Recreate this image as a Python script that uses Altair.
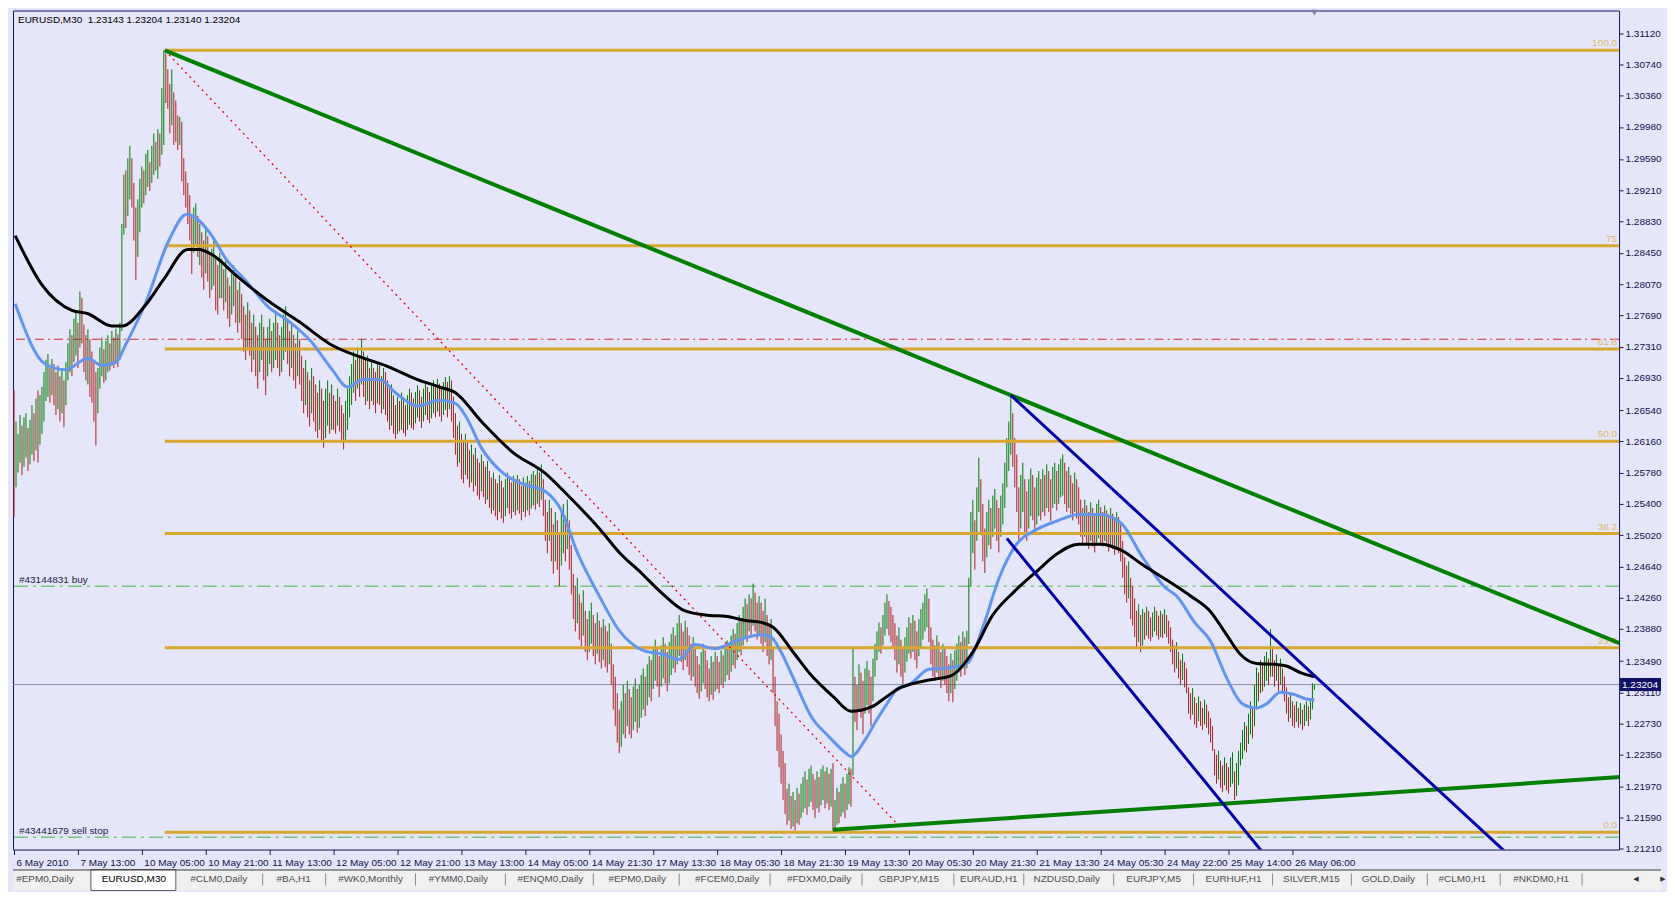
import json
import altair as alt
import pandas as pd

# ---------------------------------------------------------------- data
symbol = "EURUSD,M30"
last_ohlc = ["1.23143", "1.23204", "1.23140", "1.23204"]
bid_price = 1.23204

# M30 bars, high / low in units of 0.0001 above 1.0000 ; U = bull bar, D = bear bar
bar_high_pts = [
    2678, 2640, 2625, 2648, 2635, 2645, 2650, 2632, 2642, 2660,
    2650, 2668, 2678, 2672, 2682, 2700, 2715, 2722, 2705, 2716,
    2710, 2700, 2708, 2695, 2702, 2690, 2712, 2735, 2752, 2745,
    2765, 2774, 2760, 2798, 2790, 2758, 2745, 2752, 2740, 2725,
    2715, 2700, 2705, 2730, 2742, 2728, 2738, 2745, 2735, 2750,
    2742, 2753, 2746, 2760, 2880, 2940, 2945, 2960, 2975, 2960,
    2930, 2900, 2910, 2935, 2950, 2945, 2965, 2970, 2955, 2975,
    2990, 2980, 2995, 2990, 3045, 3091, 3087, 3068, 3050, 3068,
    3040, 3030, 3012, 3010, 3004, 2960, 2944, 2930, 2915, 2890,
    2900, 2905, 2890, 2880, 2870, 2860, 2875, 2865, 2845, 2850,
    2860, 2840, 2830, 2845, 2838, 2825, 2835, 2815, 2805, 2820,
    2830, 2815, 2800, 2810, 2795, 2780, 2770, 2785, 2775, 2760,
    2770, 2755, 2745, 2760, 2770, 2755, 2740, 2755, 2765, 2750,
    2760, 2775, 2760, 2745, 2755, 2770, 2780, 2765, 2750, 2760,
    2745, 2735, 2750, 2740, 2720, 2705, 2715, 2700, 2690, 2705,
    2695, 2685, 2675, 2690, 2680, 2665, 2680, 2690, 2675, 2685,
    2672, 2665, 2680, 2670, 2660, 2650, 2665, 2680, 2695, 2710,
    2725, 2715, 2730, 2720, 2740, 2725, 2715, 2720, 2705, 2715,
    2705, 2700, 2712, 2708, 2695, 2705, 2700, 2690, 2680, 2685,
    2672, 2660, 2670, 2665, 2675, 2668, 2660, 2672, 2680, 2675,
    2668, 2676, 2684, 2678, 2670, 2680, 2688, 2682, 2676, 2684,
    2690, 2685, 2692, 2686, 2680, 2688, 2694, 2688, 2695, 2690,
    2670, 2650, 2635, 2640, 2625, 2615, 2625, 2615, 2605, 2612,
    2600, 2608, 2595, 2590, 2600, 2592, 2585, 2592, 2580, 2572,
    2578, 2570, 2565, 2575, 2568, 2560, 2570, 2578, 2572, 2566,
    2574, 2568, 2575, 2570, 2562, 2572, 2566, 2574, 2568, 2576,
    2580, 2575, 2582, 2578, 2588, 2570, 2545, 2530, 2545, 2535,
    2515, 2530, 2520, 2505, 2530, 2540, 2525, 2545, 2520, 2490,
    2455, 2440, 2450, 2430, 2420, 2435, 2410, 2400, 2410, 2420,
    2405, 2395, 2408, 2398, 2390, 2400, 2392, 2385, 2395, 2370,
    2345, 2330, 2310, 2290, 2300, 2320, 2310, 2325, 2315, 2305,
    2318, 2328, 2315, 2320, 2332, 2340, 2330, 2345, 2355, 2350,
    2365, 2375, 2365, 2355, 2368, 2378, 2370, 2360, 2372, 2382,
    2390, 2380, 2395, 2405, 2395, 2385, 2398, 2390, 2380, 2370,
    2378, 2365, 2355, 2345, 2360, 2370, 2362, 2350, 2340, 2355,
    2348, 2360, 2355, 2348, 2362, 2356, 2366, 2374, 2368, 2380,
    2388, 2382, 2395, 2405, 2400, 2415, 2425, 2418, 2430, 2425,
    2443, 2432, 2420, 2428, 2420, 2410, 2425, 2405, 2395, 2400,
    2365, 2330, 2300, 2285, 2260, 2240, 2225, 2194, 2200, 2185,
    2190, 2180, 2195, 2188, 2200, 2208, 2215, 2205, 2218, 2222,
    2212, 2205, 2215, 2208, 2218, 2222, 2215, 2220, 2212, 2218,
    2225, 2180, 2195, 2190, 2200, 2208, 2200, 2212, 2220, 2218,
    2365, 2330, 2320, 2345, 2335, 2325, 2340, 2349, 2338, 2330,
    2352, 2370, 2385, 2396, 2390, 2405, 2420, 2430, 2422, 2415,
    2405, 2395, 2380, 2390, 2375, 2365, 2378, 2390, 2402, 2395,
    2405, 2398, 2385, 2400, 2412, 2420, 2430, 2437, 2425, 2390,
    2375, 2368, 2380, 2372, 2360, 2370, 2365, 2355, 2345, 2358,
    2350, 2362, 2370, 2380, 2372, 2385, 2378, 2386, 2450, 2530,
    2545, 2520, 2560, 2596, 2570, 2540, 2510, 2530, 2545, 2535,
    2550, 2558, 2545, 2535, 2550, 2565, 2590, 2620, 2640, 2672,
    2650, 2620, 2600, 2560, 2575, 2590, 2570, 2555, 2570, 2583,
    2575, 2560, 2572, 2580, 2570, 2582, 2575, 2588, 2580, 2570,
    2585, 2590, 2580, 2588, 2595, 2600, 2590, 2580, 2585, 2575,
    2565, 2578, 2570, 2560, 2545, 2535, 2545, 2538, 2530, 2542,
    2535, 2528, 2540, 2545, 2536, 2530, 2538, 2532, 2525, 2535,
    2528, 2520, 2530, 2524, 2515, 2495, 2475, 2465, 2470, 2450,
    2440, 2425, 2410, 2418, 2405, 2412, 2408, 2415, 2410, 2402,
    2408, 2415, 2410, 2404, 2410, 2406, 2412, 2405, 2398, 2390,
    2375, 2368, 2372, 2360, 2350, 2358, 2348, 2340, 2317, 2310,
    2316, 2305, 2298, 2306, 2300, 2292, 2302, 2296, 2288, 2280,
    2270, 2242, 2235, 2240, 2228, 2222, 2232, 2225, 2220, 2232,
    2238, 2215, 2225, 2240, 2250, 2265, 2275, 2270, 2285, 2300,
    2292, 2320, 2341, 2335, 2350, 2345, 2355, 2360, 2352, 2388,
    2365, 2350, 2357, 2345, 2352, 2340, 2330, 2317, 2305, 2310,
    2300, 2295, 2300, 2292, 2298, 2290, 2296, 2300, 2294, 2302,
    2322, 2320.4,
]
bar_low_pts = [
    2524, 2560, 2578, 2590, 2575, 2585, 2596, 2580, 2588, 2600,
    2592, 2605, 2590, 2612, 2625, 2640, 2665, 2670, 2663, 2672,
    2660, 2648, 2655, 2640, 2650, 2633, 2660, 2690, 2700, 2695,
    2712, 2720, 2705, 2730, 2735, 2700, 2690, 2685, 2670, 2663,
    2640, 2611, 2650, 2680, 2695, 2687, 2690, 2700, 2702, 2708,
    2705, 2712, 2706, 2715, 2750, 2867, 2875, 2890, 2910, 2900,
    2860, 2812, 2840, 2870, 2900, 2905, 2915, 2925, 2920, 2930,
    2940, 2945, 2935, 2950, 2964, 2976, 3027, 3020, 2990, 3000,
    2976, 2980, 2970, 2976, 2932, 2915, 2900, 2880, 2860, 2819,
    2845, 2855, 2840, 2830, 2815, 2800, 2820, 2810, 2790, 2800,
    2805, 2775, 2770, 2790, 2790, 2775, 2785, 2765, 2755, 2770,
    2780, 2760, 2748, 2760, 2740, 2725, 2715, 2730, 2720, 2700,
    2715, 2695, 2680, 2700, 2715, 2690, 2672, 2695, 2710, 2700,
    2705, 2715, 2705, 2695, 2700, 2715, 2725, 2710, 2695, 2705,
    2690, 2680, 2695, 2685, 2665, 2650, 2660, 2645, 2634, 2650,
    2640, 2628, 2620, 2630, 2615, 2608, 2620, 2635, 2625, 2630,
    2630, 2625, 2635, 2628, 2615, 2606, 2615, 2630, 2645, 2660,
    2675, 2665, 2680, 2670, 2685, 2670, 2660, 2665, 2655, 2665,
    2660, 2650, 2662, 2660, 2650, 2655, 2648, 2640, 2630, 2635,
    2625, 2619, 2625, 2628, 2630, 2626, 2622, 2630, 2636, 2632,
    2630, 2638, 2645, 2640, 2632, 2640, 2648, 2642, 2638, 2644,
    2650, 2645, 2652, 2646, 2640, 2648, 2654, 2645, 2655, 2640,
    2620, 2600, 2585, 2590, 2570, 2565, 2575, 2570, 2560, 2566,
    2555, 2562, 2550, 2545, 2555, 2548, 2540, 2545, 2535, 2528,
    2532, 2525, 2520, 2530, 2522, 2517, 2525, 2535, 2528, 2522,
    2530, 2526, 2532, 2528, 2520, 2530, 2524, 2532, 2526, 2534,
    2538, 2533, 2540, 2536, 2545, 2525, 2495, 2480, 2495, 2470,
    2455, 2470, 2460, 2440, 2465, 2480, 2470, 2485, 2460, 2430,
    2400, 2385, 2395, 2375, 2367, 2380, 2360, 2350, 2360, 2370,
    2355, 2345, 2358, 2348, 2340, 2350, 2342, 2335, 2345, 2320,
    2290, 2270, 2250, 2237, 2245, 2260, 2255, 2270, 2260, 2255,
    2265, 2275, 2262, 2268, 2280, 2290, 2282, 2295, 2305, 2300,
    2315, 2325, 2318, 2305, 2318, 2328, 2322, 2312, 2322, 2332,
    2340, 2335, 2345, 2355, 2348, 2338, 2350, 2342, 2332, 2325,
    2330, 2318, 2310, 2303, 2312, 2322, 2315, 2305, 2300, 2308,
    2302, 2312, 2315, 2310, 2320, 2316, 2324, 2332, 2326, 2336,
    2344, 2340, 2350, 2360, 2356, 2368, 2378, 2372, 2385, 2380,
    2392, 2385, 2375, 2380, 2370, 2360, 2372, 2355, 2345, 2350,
    2310, 2270, 2240, 2220, 2200, 2180, 2163, 2150, 2155, 2145,
    2148, 2143, 2152, 2150, 2158, 2165, 2170, 2162, 2172, 2178,
    2168, 2158, 2170, 2165, 2174, 2180, 2170, 2176, 2168, 2172,
    2141, 2145, 2150, 2152, 2160, 2165, 2158, 2168, 2175, 2172,
    2210, 2275, 2265, 2290, 2280, 2260, 2285, 2295, 2285, 2270,
    2300, 2330, 2350, 2360, 2358, 2368, 2380, 2388, 2380, 2372,
    2365, 2350, 2335, 2345, 2330, 2321, 2335, 2348, 2358, 2352,
    2360, 2350, 2340, 2355, 2365, 2375, 2385, 2390, 2372, 2345,
    2330, 2325, 2335, 2328, 2316, 2325, 2320, 2310, 2300, 2310,
    2299, 2315, 2325, 2335, 2330, 2340, 2332, 2340, 2370, 2440,
    2480, 2460, 2495, 2530, 2505, 2470, 2456, 2475, 2490, 2485,
    2500, 2510, 2495, 2481, 2500, 2515, 2535, 2560, 2580, 2600,
    2585, 2560, 2530, 2494, 2510, 2530, 2505, 2495, 2510, 2525,
    2520, 2505, 2515, 2525, 2520, 2530, 2525, 2535, 2530, 2519,
    2535, 2540, 2532, 2540, 2548, 2550, 2540, 2530, 2535, 2528,
    2520, 2530, 2522, 2515, 2500, 2490, 2500, 2492, 2485, 2495,
    2488, 2481, 2492, 2498, 2490, 2488, 2495, 2490, 2482, 2490,
    2485, 2478, 2486, 2480, 2470, 2450, 2430, 2420, 2425, 2400,
    2392, 2378, 2365, 2372, 2360, 2368, 2375, 2380, 2376, 2373,
    2378, 2385, 2380, 2375, 2378, 2377, 2382, 2378, 2370, 2360,
    2345, 2335, 2340, 2328, 2320, 2326, 2317, 2310, 2285, 2278,
    2284, 2272, 2268, 2276, 2270, 2265, 2272, 2268, 2260, 2250,
    2240, 2210, 2200, 2205, 2195, 2190, 2198, 2192, 2188, 2196,
    2200, 2180, 2185, 2198, 2222, 2230, 2240, 2238, 2248, 2260,
    2255, 2270, 2290, 2300, 2310, 2312, 2318, 2325, 2320, 2330,
    2330, 2318, 2325, 2312, 2320, 2309, 2300, 2285, 2275, 2280,
    2270, 2268, 2275, 2268, 2272, 2265, 2270, 2276, 2270, 2278,
    2290, 2314,
]
bar_dir = (
    "DUUUDUUDUU" "DUDUUUUUDU" "DDUDUDUUUD" "UUDUDDDUDD" "DDUUUDUUDU"
    "DUDUUUDUUD" "DDUUUDUUDU" "UDUDUUDDDU" "DDDUDDDDDD" "UUDUDDUDDU"
    "UDDUUDUDDU" "UDDUDDDUDD" "UDDUUDDUUD" "UUDDUUUDDU" "DDUDDDUDDU"
    "DDDUDDUUDU" "DDUDDDUUUU" "UDUDUDDUDU" "DDUDDUDDDU" "DDUDUDDUUD"
    "DUUDDUUDDU" "UDUDDUUDUD" "DDDUDDUDDU" "DUDDUDDUDD" "UDDUDDUUDD"
    "UDUDDUDUDU" "UDUDUDDDUD" "DUDDUUDUDD" "DDUDDUDDUU" "DDUDDUDDUD"
    "DDDDUUDUDD" "UUDUUUDUUD" "UUDDUUDDUU" "UDUUDDUDDD" "UDDDUUDDDU"
    "DUDDUDUUDU" "UDUUDUUDUD" "UDDUDDUDDU" "DDDDDDDDUD" "UDUDUUUDUU"
    "DDUDUUDUDU" "DUUDUUDUUD" "UDDUDDUUDD" "UUUUDUUUDD" "DDDUDDUUUD"
    "UDDUUUUUDD" "DDUDDUDDDU" "DUUUDUDUUU" "UDUUDDDUUD" "UUDDUUUUUU"
    "DDDDUUDDUU" "DDUUDUDUDD" "UUDUUUDDUD" "DUDDDDUDDU" "DDUUDDUDDU"
    "DDUDDDDDUD" "DDDUDUDUDD" "UUDDUDUDDD" "DDUDDUDDDD" "UDDUDDUDDD"
    "DDDUDDUDDU" "UDUUUUUDUU" "DUUDUDUUDU" "DDUDUDDDDU" "DDUDUDUUDU"
    "UU"
)

# moving averages (blue = fast, black = slow), read at sample bars, 0.0001 above 1.0000
ma_fast_bar = [0.6, 15.6, 26, 37, 44, 51, 56, 66, 77.5, 86.5, 99, 106, 116.5, 127, 138, 148.5,
               159, 167, 175, 183, 191, 202, 213, 221, 226, 234, 245, 255, 266, 274, 282, 293,
               303, 314, 325, 333, 341, 351, 362, 374, 379, 384, 390, 399, 408, 416, 419, 426,
               432, 437, 442, 449, 458, 469, 477, 485, 493, 501, 512, 522, 533, 544, 554, 565,
               576, 582, 591, 599, 607, 615, 622, 627, 634, 640, 647, 651]
ma_fast_pts = [2783, 2710, 2703, 2717, 2708, 2712, 2734, 2785, 2860, 2892, 2866, 2838, 2810, 2780, 2761, 2738,
               2704, 2682, 2691, 2691, 2675, 2659, 2666, 2662, 2647, 2608, 2577, 2564, 2555, 2532, 2481, 2428,
               2386, 2363, 2357, 2351, 2369, 2364, 2374, 2381, 2378, 2360, 2329, 2282, 2257, 2238, 2233, 2253,
               2278, 2297, 2315, 2322, 2339, 2341, 2346, 2390, 2449, 2488, 2509, 2519, 2527, 2527, 2517, 2475,
               2439, 2428, 2396, 2373, 2329, 2297, 2292, 2297, 2311, 2309, 2303, 2302]
ma_slow_bar = [0.6, 14, 29, 37, 49, 54, 66, 75, 87, 92.5, 99, 111, 127, 143, 159, 175,
               186, 202, 213, 221, 234, 250, 266, 277, 293, 303, 314, 325, 335, 346, 357, 367,
               374, 380, 390, 399, 410, 419, 429, 437, 444, 449, 458, 469, 480, 490, 501, 512,
               522, 533, 544, 554, 565, 576, 589, 599, 607, 614, 622, 631, 637, 644, 651]
ma_slow_pts = [2866, 2806, 2775, 2771, 2756, 2756, 2782, 2813, 2849, 2849, 2843, 2818, 2787, 2761, 2733, 2717,
               2708, 2691, 2682, 2675, 2640, 2602, 2577, 2551, 2510, 2481, 2456, 2430, 2411, 2405, 2403, 2398,
               2396, 2390, 2360, 2332, 2306, 2288, 2293, 2306, 2317, 2321, 2326, 2331, 2360, 2405, 2434, 2458,
               2479, 2491, 2491, 2484, 2466, 2449, 2428, 2409, 2381, 2357, 2346, 2345, 2343, 2335, 2330]

# Fibonacci retracement (anchored at the 10 May high)
fib_names = ["100.0", "75", "61.8", "50.0", "38.2", "23.6", "0.0"]
fib_prices = [1.30910, 1.28535, 1.27281, 1.26160, 1.25039, 1.23652, 1.21410]
fib_from_bar = 75.5
fib_to_bar = 816.5

# trend lines: (bar, price) -> (bar, price)
trend_names = ["down", "up", "chan_top", "chan_bottom", "diag"]
trend_x0 = [75.5, 410, 499, 497, 75.5]
trend_y0 = [1.3091, 1.2144, 1.2672, 1.2498, 1.3091]
trend_x1 = [816.5, 816.5, 760, 635, 444.5]
trend_y1 = [1.2358, 1.2210, 1.2087, 1.2087, 1.2145]

redline_price = 1.2740
order_labels = ["#43144831 buy", "#43441679 sell stop"]
order_prices = [1.2440, 1.2135]

x_tick_bars = [0, 32, 64, 96, 128, 160, 192, 224, 256, 288, 320, 352, 384, 416, 448, 480, 512,
               544, 576, 608, 640]
x_tick_text = ["6 May 2010", "7 May 13:00", "10 May 05:00", "10 May 21:00", "11 May 13:00",
               "12 May 05:00", "12 May 21:00", "13 May 13:00", "14 May 05:00", "14 May 21:30",
               "17 May 13:30", "18 May 05:30", "18 May 21:30", "19 May 13:30", "20 May 05:30",
               "20 May 21:30", "21 May 13:30", "24 May 05:30", "24 May 22:00", "25 May 14:00",
               "26 May 06:00"]
y_tick_vals = [1.31120, 1.30740, 1.30360, 1.29980, 1.29590, 1.29210, 1.28830, 1.28450, 1.28070,
               1.27690, 1.27310, 1.26930, 1.26540, 1.26160, 1.25780, 1.25400, 1.25020, 1.24640,
               1.24260, 1.23880, 1.23490, 1.23110, 1.22730, 1.22350, 1.21970, 1.21590, 1.21210]

tab_names = ["#EPM0,Daily", "EURUSD,M30", "#CLM0,Daily", "#BA,H1", "#WK0,Monthly", "#YMM0,Daily",
             "#ENQM0,Daily", "#EPM0,Daily", "#FCEM0,Daily", "#FDXM0,Daily", "GBPJPY,M15",
             "EURAUD,H1", "NZDUSD,Daily", "EURJPY,M5", "EURHUF,H1", "SILVER,M15", "GOLD,Daily",
             "#CLM0,H1", "#NKDM0,H1"]
tab_centers = [40, 129, 214, 289, 366, 454, 546, 633, 723, 815, 905, 985, 1063, 1150, 1230,
               1308, 1385, 1459, 1538]
tab_separators = [258, 321, 411, 501, 589, 675, 766, 858, 950, 1020, 1110, 1190, 1269, 1348,
                  1424, 1497, 1579]
active_tab_index = 1
active_tab = [86, 171]
tab_arrows = ["\u25C0", "\u25B6"]
tab_arrow_pos = [1633, 1660]

# ---------------------------------------------------------------- styling
W, H = 1608, 840
TAB_W, TAB_H = 1650, 20
FONT = "Liberation Sans"
BG = "#E6E6FA"
NAVY = "#14145A"
GREEN_BAR = "#007A00"
RED_BAR = "#AA1E1E"
FIB = "#D9A62E"

n = min(len(bar_high_pts), len(bar_low_pts), len(bar_dir))
candles = pd.DataFrame({
    "bar": list(range(n)),
    "low": [1 + v / 10000 for v in bar_low_pts[:n]],
    "high": [1 + v / 10000 for v in bar_high_pts[:n]],
    "dir": list(bar_dir[:n]),
})
ma_fast = pd.DataFrame({"bar": ma_fast_bar, "price": [1 + v / 10000 for v in ma_fast_pts]})
ma_slow = pd.DataFrame({"bar": ma_slow_bar, "price": [1 + v / 10000 for v in ma_slow_pts]})
fib = pd.DataFrame({"name": fib_names, "price": fib_prices,
                    "x0": [fib_from_bar] * len(fib_names), "x1": [fib_to_bar] * len(fib_names)})
rows = []
for nm, a, b, c, d in zip(trend_names, trend_x0, trend_y0, trend_x1, trend_y1):
    rows.append({"name": nm, "bar": a, "price": b})
    rows.append({"name": nm, "bar": c, "price": d})
trends = pd.DataFrame(rows)

xs = alt.Scale(domain=[-0.5, 803.5], nice=False, zero=False)
ys = alt.Scale(domain=[1.21200, 1.31394], nice=False, zero=False)

lab_expr = "{}[indexof({}, datum.value)]".format(json.dumps(x_tick_text), json.dumps(x_tick_bars))
x_axis = alt.Axis(values=x_tick_bars, labelExpr=lab_expr, title=None, grid=False, domain=False,
                  tickSize=5, tickColor=NAVY, labelAlign="left", labelBaseline="top",
                  labelPadding=3, labelOffset=2, labelFont=FONT, labelFontSize=10,
                  labelColor="#10104A", labelOverlap=False, labelFlush=False, labelBound=False)
y_axis = alt.Axis(orient="right", values=y_tick_vals, format=".5f", title=None, grid=False,
                  domain=False, tickSize=4, tickColor=NAVY, labelPadding=2, labelFont=FONT,
                  labelFontSize=10, labelColor="#10104A", labelOverlap=False,
                  labelBaseline="middle", labelAlign="left")


def xq(f):
    return alt.X(f"{f}:Q", scale=xs, axis=x_axis)


def yq(f):
    return alt.Y(f"{f}:Q", scale=ys, axis=y_axis)


layers = []
# horizontal order / level lines
layers.append(alt.Chart(pd.DataFrame({"price": [redline_price]})).mark_rule(
    color="#D62828", strokeWidth=1, strokeDash=[9, 4, 2, 4]).encode(y=yq("price")))
layers.append(alt.Chart(pd.DataFrame({"price": order_prices})).mark_rule(
    color="#3DB43D", strokeWidth=1, strokeDash=[14, 5, 3, 5]).encode(y=yq("price")))
layers.append(alt.Chart(pd.DataFrame({"price": [bid_price]})).mark_rule(
    color="#8C8CA6", strokeWidth=1).encode(y=yq("price")))
# candles
layers.append(alt.Chart(candles).mark_rule(strokeWidth=1).encode(
    x=xq("bar"), y=yq("low"), y2="high:Q",
    color=alt.Color("dir:N", scale=alt.Scale(domain=["U", "D"], range=[GREEN_BAR, RED_BAR]),
                    legend=None)))
# fibonacci
layers.append(alt.Chart(fib).mark_rule(color=FIB, strokeWidth=3, clip=True).encode(
    x=xq("x0"), x2="x1:Q", y=yq("price")))
layers.append(alt.Chart(fib).mark_text(align="right", baseline="bottom", dy=-2, font=FONT,
                                       fontSize=10, color="#E0B868").encode(
    x=alt.value(W - 2), y=yq("price"), text="name:N"))
# moving averages
layers.append(alt.Chart(ma_fast).mark_line(color="#6495ED", strokeWidth=3,
                                           interpolate="monotone").encode(x=xq("bar"), y=yq("price")))
layers.append(alt.Chart(ma_slow).mark_line(color="#000000", strokeWidth=3,
                                           interpolate="monotone").encode(x=xq("bar"), y=yq("price")))
# trend lines
layers.append(alt.Chart(trends).transform_filter(alt.FieldOneOfPredicate(field="name", oneOf=["diag"]))
              .mark_line(color="#E80000", strokeWidth=1.3, strokeDash=[2, 4], clip=True)
              .encode(x=xq("bar"), y=yq("price"), detail="name:N"))
layers.append(alt.Chart(trends).transform_filter(alt.FieldOneOfPredicate(field="name", oneOf=["down", "up"]))
              .mark_line(color="#008000", strokeWidth=4, clip=True)
              .encode(x=xq("bar"), y=yq("price"), detail="name:N"))
layers.append(alt.Chart(trends).transform_filter(
    alt.FieldOneOfPredicate(field="name", oneOf=["chan_top", "chan_bottom"]))
              .mark_line(color="#0000A8", strokeWidth=3, clip=True)
              .encode(x=xq("bar"), y=yq("price"), detail="name:N"))
# labels
layers.append(alt.Chart(pd.DataFrame({"t": order_labels, "price": order_prices})).mark_text(
    align="left", baseline="bottom", dy=-1, font=FONT, fontSize=10, color="#1A1A48").encode(
    x=alt.value(6), y=yq("price"), text="t:N"))
layers.append(alt.Chart(pd.DataFrame({"t": [symbol + "\u00a0\u00a0" + " ".join(last_ohlc)]})).mark_text(
    align="left", baseline="top", font=FONT, fontSize=10, color="#000000").encode(
    x=alt.value(5), y=alt.value(4), text="t:N"))
layers.append(alt.Chart(candles.tail(1)).mark_point(shape="triangle-down", filled=True, size=45,
                                                    color="#7E7EA4", opacity=1).encode(
    x=xq("bar"), y=alt.value(2)))
bid_df = pd.DataFrame({"price": [bid_price], "t": [f"{bid_price:.5f}"]})
layers.append(alt.Chart(bid_df).mark_rect(color="#101066", height=13).encode(
    x=alt.value(W + 1), x2=alt.value(W + 42), y=yq("price")))
layers.append(alt.Chart(bid_df).mark_text(align="left", baseline="middle", font=FONT, fontSize=10,
                                          color="#FFFFFF").encode(
    x=alt.value(W + 3), y=yq("price"), text="t:N"))

main = alt.layer(*layers).properties(
    width=W, height=H, view=alt.ViewBackground(fill=BG, stroke=NAVY, strokeWidth=1))

# ---------------------------------------------------------------- tab bar
txs = alt.Scale(domain=[8, 8 + TAB_W], nice=False, zero=False)
tab_df = pd.DataFrame({"name": tab_names, "c": tab_centers, "k": list(range(len(tab_names)))})
tab_layers = [
    alt.Chart(pd.DataFrame({"a": [active_tab[0]], "b": [active_tab[1]]})).mark_rect(
        fill="#FFFFFF", stroke="#5A5A5A", strokeWidth=1).encode(
        x=alt.X("a:Q", scale=txs, axis=None), x2="b:Q", y=alt.value(0), y2=alt.value(TAB_H + 1)),
    alt.Chart(pd.DataFrame({"p": tab_separators})).mark_rule(color="#8A8A8A", strokeWidth=1).encode(
        x=alt.X("p:Q", scale=txs, axis=None), y=alt.value(4), y2=alt.value(16)),
    alt.Chart(tab_df).transform_filter(alt.datum.k != active_tab_index).mark_text(
        baseline="middle", font=FONT, fontSize=10, color="#4E4E4E").encode(
        x=alt.X("c:Q", scale=txs, axis=None), y=alt.value(10), text="name:N"),
    alt.Chart(tab_df).transform_filter(alt.datum.k == active_tab_index).mark_text(
        baseline="middle", font=FONT, fontSize=10, color="#000000").encode(
        x=alt.X("c:Q", scale=txs, axis=None), y=alt.value(10), text="name:N"),
    alt.Chart(pd.DataFrame({"g": tab_arrows, "c": tab_arrow_pos})).mark_text(
        baseline="middle", font="DejaVu Sans", fontSize=7, color="#333333").encode(
        x=alt.X("c:Q", scale=txs, axis=None), y=alt.value(10), text="g:N"),
    alt.Chart(pd.DataFrame({"a": [8], "b": [8 + TAB_W]})).mark_rule(
        color="#3C3C3C", strokeWidth=1).encode(
        x=alt.X("a:Q", scale=txs, axis=None), x2="b:Q", y=alt.value(0.5)),
]
tabs = alt.layer(*tab_layers).properties(
    width=TAB_W, height=TAB_H, view=alt.ViewBackground(fill="#F0F0F0", stroke="#F0F0F0"))

chart = alt.vconcat(main, tabs, spacing=0).properties(
    background=BG, padding={"left": 0, "top": 0, "right": 0, "bottom": 0}
).resolve_scale(color="independent")

chart.save("out.html", embed_options={"renderer": "svg", "actions": False})
